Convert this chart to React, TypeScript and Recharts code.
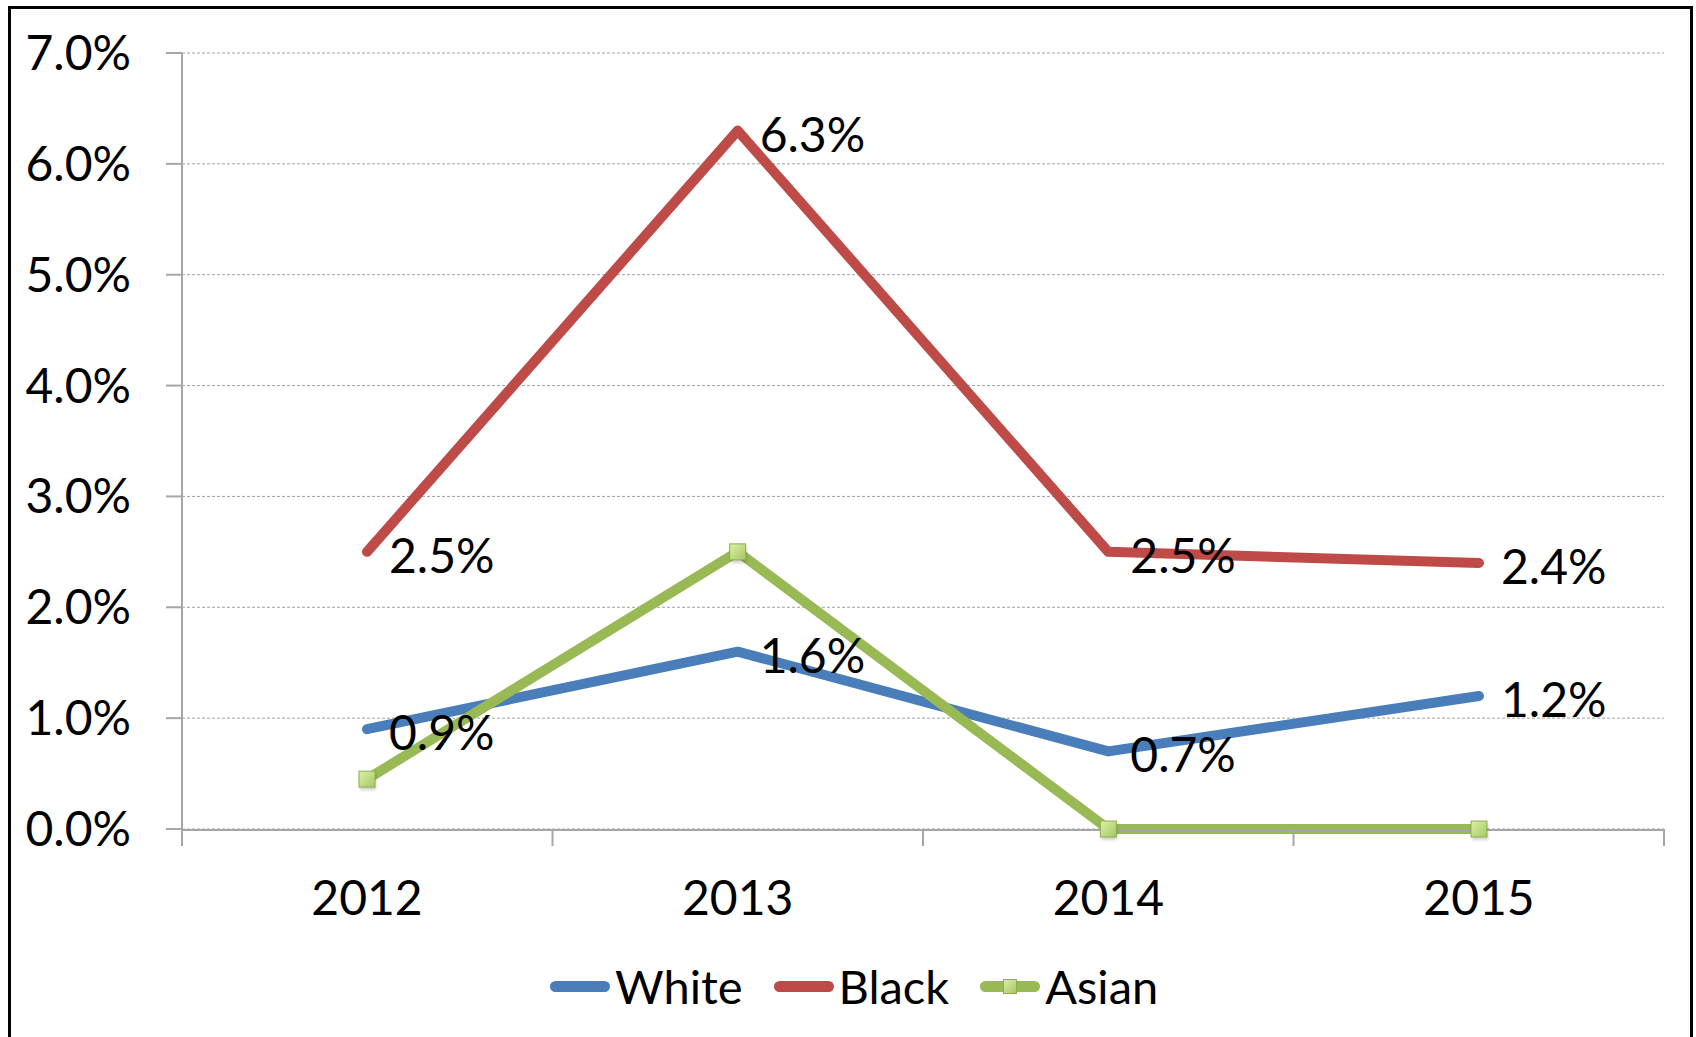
import React from 'react';
import { LineChart, Line, XAxis, YAxis, CartesianGrid, Legend, LabelList } from 'recharts';

const YEARS = ['2012', '2013', '2014', '2015'];
const WHITE = [0.9, 1.6, 0.7, 1.2];
const BLACK = [2.5, 6.3, 2.5, 2.4];
const ASIAN = [0.45, 2.5, 0, 0];
const Y_TICKS = [0, 1, 2, 3, 4, 5, 6, 7];
// category boundaries for the x-axis tick marks (between the years)
const EDGE_TICKS = [0, 1, 2, 3, 4];

const COLORS = { white: '#4A7EBB', black: '#BE4B48', asian: '#98B954' };
const FONT = 'Lato, "Open Sans", sans-serif';
const AXIS_GRAY = '#A6A6A6';
const FS = 48;

// axis ids: "a" (boundary tick marks) must sort before "b" (year labels) so it sits on the plot edge
const EDGE_AXIS = 'a';
const CAT_AXIS = 'b';

const data = YEARS.map((year, i) => ({ year, slot: i + 0.5, white: WHITE[i], black: BLACK[i], asian: ASIAN[i] }));

const fmt = (v: number) => `${v.toFixed(1)}%`;

const PointLabel = (props: any) => {
  const { x, y, value } = props;
  if (x == null || y == null) return null;
  return (
    <text x={x + 22} y={y + 21} fontSize={FS} fontFamily={FONT} fill="#000">
      {fmt(Number(value))}
    </text>
  );
};

const EmptyTick = (props: any) => <g key={`e-${props.index}`} />;

const AsianDot = (props: any) => {
  const { cx, cy } = props;
  if (cx == null || cy == null) return null;
  return (
    <g>
      <rect x={cx - 7} y={cy - 5} width={16} height={16} fill="rgba(0,0,0,0.18)" filter="url(#dotShadow)" />
      <rect x={cx - 8} y={cy - 8} width={16} height={16} fill="url(#asianGrad)" stroke="#8DB04A" strokeWidth={1} />
    </g>
  );
};

const LegendItem = ({ label, color, marker }: { label: string; color: string; marker?: boolean }) => (
  <div style={{ display: 'flex', alignItems: 'center', marginRight: 31 }}>
    <div style={{ position: 'relative', width: 60, height: 11, borderRadius: 6, background: color }}>
      {marker && (
        <div
          style={{
            position: 'absolute', left: 23, top: -2, width: 14, height: 15, boxSizing: 'border-box',
            background: 'linear-gradient(135deg, #D9EDA6, #A8C866)', border: '1px solid #8DB04A',
          }}
        />
      )}
    </div>
    <span style={{ fontFamily: FONT, fontSize: 47, color: '#000', marginLeft: 5, lineHeight: '54px' }}>{label}</span>
  </div>
);

const renderLegend = () => (
  <div style={{ position: 'relative', height: 70, width: 1696 }}>
    <div style={{ position: 'absolute', left: 550, top: 2, height: 70, display: 'flex', alignItems: 'center' }}>
      <LegendItem label="White" color={COLORS.white} />
      <LegendItem label="Black" color={COLORS.black} />
      <LegendItem label="Asian" color={COLORS.asian} marker />
    </div>
  </div>
);

export default function App() {
  return (
    <div style={{ position: 'absolute', left: 0, top: 0, width: 1696, height: 1037, overflow: 'hidden', background: '#fff' }}>
      <div
        style={{
          position: 'absolute', left: 8, top: 6, width: 1685, height: 1100,
          border: '3px solid #000', boxSizing: 'border-box',
        }}
      />
      <div style={{ position: 'absolute', left: 0, top: 0 }}>
        <LineChart width={1696} height={1037} data={data} margin={{ top: 53, right: 32, left: 0, bottom: 18 }}>
          <defs>
            <linearGradient id="asianGrad" x1="0" y1="0" x2="1" y2="1">
              <stop offset="0%" stopColor="#DCEFA8" />
              <stop offset="100%" stopColor="#A6C865" />
            </linearGradient>
            <filter id="dotShadow" x="-50%" y="-50%" width="200%" height="200%">
              <feGaussianBlur stdDeviation="1.5" />
            </filter>
          </defs>
          <CartesianGrid xAxisId={CAT_AXIS} vertical={false} stroke="#A0A0A0" strokeDasharray="3 2" strokeWidth={1} />
          <XAxis
            xAxisId={EDGE_AXIS}
            dataKey="slot"
            type="number"
            domain={[0, 4]}
            ticks={EDGE_TICKS}
            allowDataOverflow
            interval={0}
            tick={EmptyTick}
            tickSize={17}
            axisLine={false}
            tickLine={{ stroke: AXIS_GRAY, strokeWidth: 2 }}
            height={1}
          />
          <XAxis
            xAxisId={CAT_AXIS}
            dataKey="year"
            padding={{ left: 185, right: 185 }}
            tickLine={false}
            tickSize={0}
            tickMargin={51}
            axisLine={{ stroke: AXIS_GRAY, strokeWidth: 2 }}
            tick={{ fill: '#000', fontSize: FS, fontFamily: FONT }}
            height={119}
          />
          <YAxis
            domain={[0, 7]}
            ticks={Y_TICKS}
            width={182}
            tickSize={16}
            tickMargin={35}
            tickFormatter={fmt}
            axisLine={{ stroke: AXIS_GRAY, strokeWidth: 2 }}
            tickLine={{ stroke: AXIS_GRAY, strokeWidth: 2 }}
            tick={{ fill: '#000', fontSize: FS, fontFamily: FONT }}
          />
          <Legend verticalAlign="bottom" content={renderLegend} wrapperStyle={{ left: 0, width: 1696 }} />
          <Line xAxisId={EDGE_AXIS} dataKey="white" legendType="none" stroke="none" dot={false} activeDot={false} isAnimationActive={false} />
          <Line xAxisId={CAT_AXIS} dataKey="white" name="White" stroke={COLORS.white} strokeWidth={10} strokeLinecap="round" strokeLinejoin="round" dot={false} activeDot={false} isAnimationActive={false} />
          <Line xAxisId={CAT_AXIS} dataKey="black" name="Black" stroke={COLORS.black} strokeWidth={10} strokeLinecap="round" strokeLinejoin="round" dot={false} activeDot={false} isAnimationActive={false} />
          <Line
            xAxisId={CAT_AXIS}
            dataKey="asian"
            name="Asian"
            stroke={COLORS.asian}
            strokeWidth={10}
            strokeLinecap="round"
            strokeLinejoin="round"
            dot={(p: any) => <AsianDot key={`asian-${p.index}`} {...p} />}
            activeDot={false}
            isAnimationActive={false}
          />
          <Line xAxisId={CAT_AXIS} dataKey="white" legendType="none" stroke="none" dot={false} activeDot={false} isAnimationActive={false}>
            <LabelList dataKey="white" content={PointLabel} />
          </Line>
          <Line xAxisId={CAT_AXIS} dataKey="black" legendType="none" stroke="none" dot={false} activeDot={false} isAnimationActive={false}>
            <LabelList dataKey="black" content={PointLabel} />
          </Line>
        </LineChart>
      </div>
    </div>
  );
}
